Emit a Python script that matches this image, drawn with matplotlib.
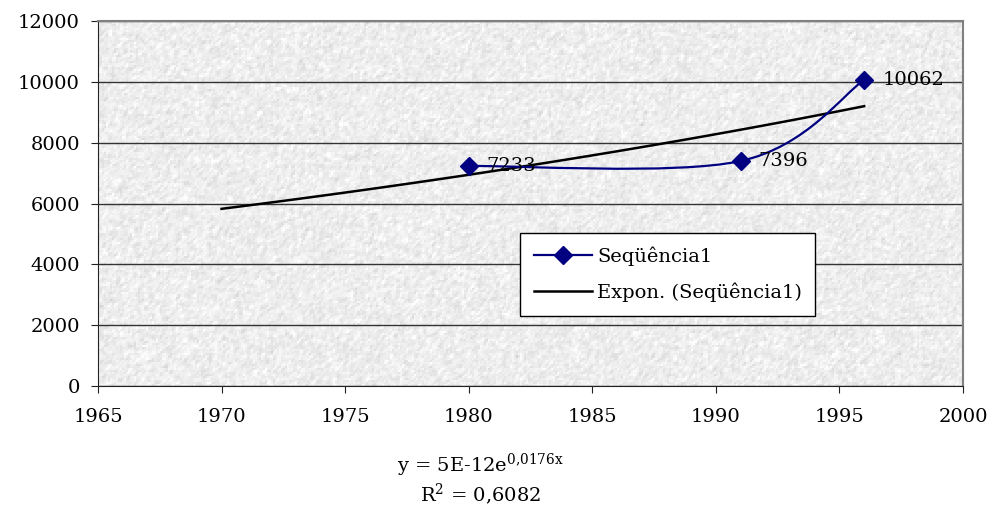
import matplotlib.pyplot as plt
import numpy as np
from matplotlib.path import Path
from matplotlib.patches import PathPatch
from matplotlib.lines import Line2D

# dados
anos = [1980, 1991, 1996]
valores = [7233, 7396, 10062]
rotulos = ["7233", "7396", "10062"]
trend_inicio = 1970
eq_texto = r"y = 5E-12e$^{\mathregular{0{,}0176x}}$"
r2_texto = r"R$^{\mathregular{2}}$ = 0,6082"

plt.rcParams['font.family'] = ['DejaVu Serif']
plt.rcParams['mathtext.fontset'] = 'dejavuserif'

fig = plt.figure(figsize=(9.94, 5.11), dpi=100)
ax = fig.add_axes([0.0986, 0.2446, 0.8702, 0.7143])

# fundo com textura de granito
rng = np.random.default_rng(3)
tex = rng.normal(0.93, 0.045, (180, 430))
tex = (tex + np.roll(tex, 1, 0) + np.roll(tex, 1, 1)) / 3
ax.imshow(np.clip(tex, 0, 1), cmap='gray', vmin=0, vmax=1, extent=[1965, 2000, 0, 12000],
          aspect='auto', zorder=0, interpolation='nearest')

ax.set_xlim(1965, 2000)
ax.set_ylim(0, 12000)
ax.set_xticks(np.arange(1965, 2001, 5))
ax.set_yticks(np.arange(0, 12001, 2000))
ax.yaxis.grid(True, color='#333333', linewidth=1)
for g in ax.get_ygridlines():
    g.set_zorder(1)

# linha suavizada (bezier como no Excel)
x = np.array(anos, dtype=float)
y = np.array(valores, dtype=float)
pts = np.column_stack([x, y])
verts = [pts[0]]
codes = [Path.MOVETO]
n = len(pts)
for i in range(n - 1):
    p0 = pts[i - 1] if i > 0 else pts[i]
    p1 = pts[i]
    p2 = pts[i + 1]
    p3 = pts[i + 2] if i + 2 < n else pts[i + 1]
    c1 = p1 + (p2 - p0) / 6
    c2 = p2 - (p3 - p1) / 6
    verts += [c1, c2, p2]
    codes += [Path.CURVE4] * 3
ax.add_patch(PathPatch(Path(verts, codes), facecolor='none', edgecolor='#000080', lw=1.6, zorder=3))
ax.plot(anos, valores, linestyle='none', marker='D', ms=9.5, color='#000080', zorder=4)

# tendencia exponencial
b, a = np.polyfit(x, np.log(y), 1)
xt = np.linspace(trend_inicio, anos[-1], 50)
ax.plot(xt, np.exp(a + b * xt), color='black', lw=1.8, zorder=2)

for xi, yi, t in zip(anos, valores, rotulos):
    ax.annotate(t, (xi, yi), xytext=(13, 0), textcoords='offset points', va='center', ha='left',
                fontsize=14, zorder=5)

# legenda
h1 = Line2D([], [], color='#000080', lw=1.6, marker='D', ms=9.5)
h2 = Line2D([], [], color='black', lw=1.8)
leg = ax.legend([h1, h2], ["Seqüência1", "Expon. (Seqüência1)"], loc='upper left',
                bbox_to_anchor=(0.488, 0.419), fontsize=14, fancybox=False, framealpha=1,
                edgecolor='black', handlelength=3.0, handletextpad=0.25, borderpad=0.7,
                labelspacing=0.85, borderaxespad=0)
leg.get_frame().set_linewidth(1)
leg.set_zorder(6)

for s in ['top', 'right']:
    ax.spines[s].set_color('#808080')
    ax.spines[s].set_linewidth(1.5)
for s in ['left', 'bottom']:
    ax.spines[s].set_color('#222222')
ax.tick_params(labelsize=14, length=5, color='#222222')
ax.tick_params(axis='x', pad=11)
ax.tick_params(axis='y', pad=8)

fig.text(0.483, 0.089, eq_texto, ha='center', va='center', fontsize=14)
fig.text(0.483, 0.033, r2_texto, ha='center', va='center', fontsize=14)

fig.savefig('out.png', dpi=100)
